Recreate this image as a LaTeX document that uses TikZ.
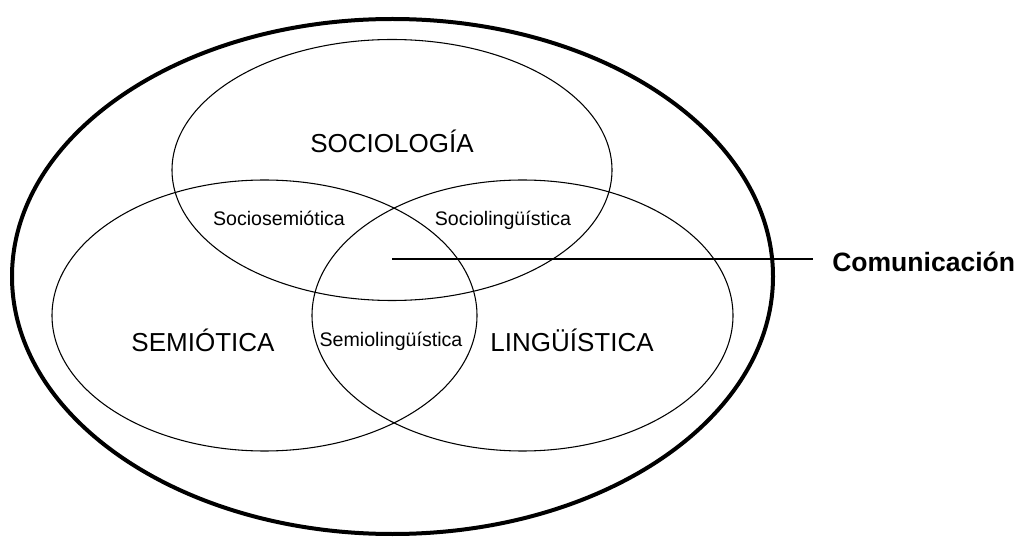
\documentclass[tikz,border=0pt]{standalone}
\usepackage{fontspec}
\setmainfont{Liberation Sans}
\begin{document}
\begin{tikzpicture}[x=0.75pt,y=-0.75pt,
    campo/.style={font=\fontsize{19.5}{23}\selectfont, anchor=base},
    cruce/.style={font=\fontsize{14.7}{17}\selectfont, anchor=base}]
    \useasboundingbox (0,0) rectangle (1018,538);

    \draw[line width=3pt] (392.5,276.5) ellipse [x radius=380.5, y radius=257.5];
    \draw[line width=0.8pt] (392,170) ellipse [x radius=220, y radius=130.5];
    \draw[line width=0.8pt] (264.5,315.5) ellipse [x radius=212.5, y radius=135.5];
    \draw[line width=0.8pt] (522.5,315.5) ellipse [x radius=210.5, y radius=135.5];

%    \draw[red] (0,259) -- (1018,259);

    \node[campo] (soc) at (392,153) {SOCIOLOGÍA};
    \node[campo] (sem) at (203,352) {SEMIÓTICA};
    \node[campo] (lin) at (572,352) {LINGÜÍSTICA};

    \node[cruce] (socsem) at (279,226) {Sociosemiótica};
    \node[cruce] (soclin) at (503,226) {Sociolingüística};
    \node[cruce] (semlin) at (391,347) {Semiolingüística};

    \coordinate (ptr) at (392,259);
    \node[font=\bfseries\fontsize{19.9}{23}\selectfont, anchor=base west, inner xsep=14.25pt] (com) at (813,272) {Comunicación};
    \draw[line width=0.8pt] (ptr) -- (ptr -| com.west);

\end{tikzpicture}
\end{document}
